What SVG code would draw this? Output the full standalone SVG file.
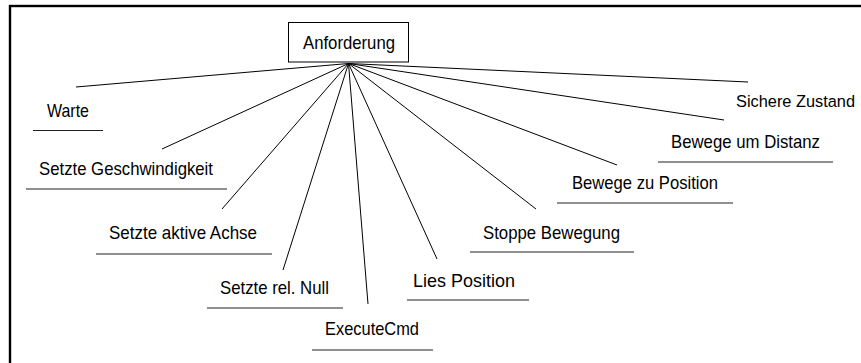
<svg xmlns="http://www.w3.org/2000/svg" width="861" height="363" viewBox="0 0 861 363">
<style>
text{font-family:"Liberation Sans",Arial,sans-serif;font-size:18.5px;fill:#000}
.u{stroke:#222;stroke-width:1.2}
.c{stroke:#000;stroke-width:1;fill:none}
</style>
<rect x="0" y="0" width="861" height="363" fill="#fff"/>
<rect x="10" y="6" width="900" height="420" fill="none" stroke="#000" stroke-width="2.4"/>
<g id="connectors">
<line class="c" x1="348.5" y1="63.5" x2="76" y2="87"/>
<line class="c" x1="348.5" y1="63.5" x2="162" y2="149"/>
<line class="c" x1="348.5" y1="63.5" x2="222" y2="209"/>
<line class="c" x1="348.5" y1="63.5" x2="283" y2="270"/>
<line class="c" x1="348.5" y1="63.5" x2="368" y2="304"/>
<line class="c" x1="348.5" y1="63.5" x2="437" y2="259"/>
<line class="c" x1="348.5" y1="63.5" x2="536" y2="209"/>
<line class="c" x1="348.5" y1="63.5" x2="617" y2="165"/>
<line class="c" x1="348.5" y1="63.5" x2="724" y2="120"/>
<line class="c" x1="348.5" y1="63.5" x2="748" y2="82"/>
</g>
<g id="anforderung">
<rect x="288.5" y="22.5" width="120" height="39.5" fill="#fff" stroke="#000" stroke-width="1"/>
<text x="303" y="48.5" textLength="92" lengthAdjust="spacingAndGlyphs">Anforderung</text>
</g>
<g id="warte">
<text x="47" y="117" textLength="42" lengthAdjust="spacingAndGlyphs">Warte</text>
<line class="u" x1="33" y1="130.5" x2="103" y2="130.5"/>
</g>
<g id="setzte-geschwindigkeit">
<text x="39" y="175" textLength="174" lengthAdjust="spacingAndGlyphs">Setzte Geschwindigkeit</text>
<line class="u" x1="26" y1="189" x2="227" y2="189"/>
</g>
<g id="setzte-aktive-achse">
<text x="109" y="239" textLength="148" lengthAdjust="spacingAndGlyphs">Setzte aktive Achse</text>
<line class="u" x1="96" y1="254" x2="272" y2="254"/>
</g>
<g id="setzte-rel-null">
<text x="220" y="294" textLength="109" lengthAdjust="spacingAndGlyphs">Setzte rel. Null</text>
<line class="u" x1="207" y1="308" x2="343" y2="308"/>
</g>
<g id="executecmd">
<text x="325" y="335" textLength="94" lengthAdjust="spacingAndGlyphs">ExecuteCmd</text>
<line class="u" x1="312" y1="350" x2="433" y2="350"/>
</g>
<g id="lies-position">
<text x="413" y="287" textLength="102" lengthAdjust="spacingAndGlyphs">Lies Position</text>
<line class="u" x1="407" y1="300" x2="529" y2="300"/>
</g>
<g id="stoppe-bewegung">
<text x="483" y="239" textLength="137" lengthAdjust="spacingAndGlyphs">Stoppe Bewegung</text>
<line class="u" x1="470" y1="252" x2="634" y2="252"/>
</g>
<g id="bewege-zu-position">
<text x="572" y="189" textLength="146" lengthAdjust="spacingAndGlyphs">Bewege zu Position</text>
<line class="u" x1="557" y1="203" x2="733" y2="203"/>
</g>
<g id="bewege-um-distanz">
<text x="671" y="148" textLength="149" lengthAdjust="spacingAndGlyphs">Bewege um Distanz</text>
<line class="u" x1="658" y1="162" x2="833" y2="162"/>
</g>
<g id="sichere-zustand">
<text x="736" y="107" font-size="16.8" textLength="119" lengthAdjust="spacingAndGlyphs" style="font-size:16.8px">Sichere Zustand</text>
</g>
</svg>
